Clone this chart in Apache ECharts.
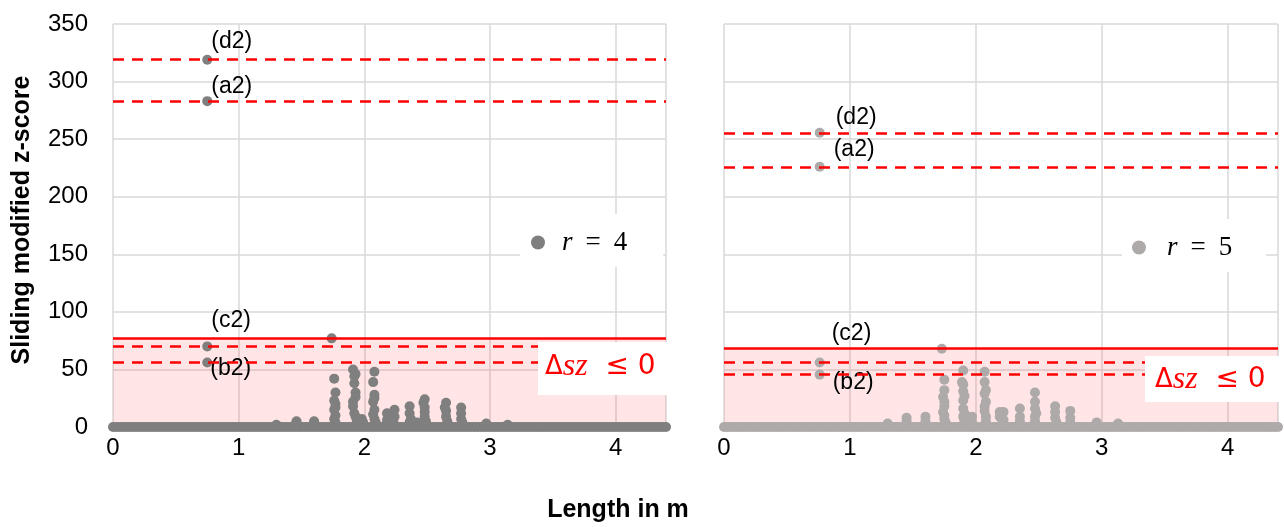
<!DOCTYPE html>
<html><head><meta charset="utf-8">
<script src="https://cdn.jsdelivr.net/npm/echarts@6/dist/echarts.min.js"></script>
<style>html,body{margin:0;padding:0;background:#fff}#c{width:1284px;height:527px}</style>
</head><body><div id="c"></div>
<script>
// ---------- data ----------
const xTicks = [0, 1, 2, 3, 4];
const yTicks = [0, 50, 100, 150, 200, 250, 300, 350];
const seriesNames = ['r = 4', 'r = 5'];

// labelled outliers [label, x, y]
const leftNamed  = [['(d2)', 0.75, 319], ['(a2)', 0.75, 283], ['(c2)', 0.75, 70], ['(b2)', 0.75, 56]];
const rightNamed = [['(d2)', 0.76, 255.5], ['(a2)', 0.76, 226], ['(c2)', 0.76, 56], ['(b2)', 0.76, 45.5]];

// threshold lines
const leftDashed = [319, 283, 70, 56];
const leftSolid = 77;
const rightDashed = [255.5, 226, 56, 45.5];
const rightSolid = 68;

// other points [x, y]
const leftPoints = [
  [1.74,77],
  [1.30,2],[1.46,4],[1.46,5],[1.60,5],[1.60,3],
  [1.76,42],[1.77,30],[1.76,23],[1.77,20],[1.77,17],[1.76,15],[1.77,10],[1.76,7],[1.77,4],
  [1.91,50],[1.93,46],[1.92,44],[1.92,38],[1.93,30],[1.93,26],[1.91,22],[1.91,18],[1.92,12],[1.93,9],[1.94,5],
  [1.98,7],[1.99,4],
  [2.08,48],[2.07,39],[2.08,28],[2.08,25],[2.07,22],[2.08,15],[2.07,11],[2.08,7],[2.09,4],
  [2.18,12],[2.18,6],[2.18,3],[2.24,15],[2.24,9],[2.23,5],
  [2.36,18],[2.36,12],[2.37,7],[2.36,4],[2.42,4],
  [2.48,24],[2.47,21],[2.48,17],[2.48,13],[2.48,9],[2.49,5],
  [2.65,21],[2.64,17],[2.65,14],[2.65,9],[2.66,5],
  [2.77,17],[2.77,12],[2.77,7],[2.78,4],
  [2.97,3],[3.14,2]
];
const rightPoints = [
  [1.73,68],
  [1.30,3],[1.45,8],[1.45,5],[1.60,9],[1.60,5],
  [1.75,41],[1.75,32],[1.74,26],[1.75,22],[1.75,18],[1.74,13],[1.75,10],[1.75,7],[1.76,4],
  [1.90,49],[1.89,39],[1.90,37],[1.90,31],[1.91,27],[1.90,23],[1.90,16],[1.91,12],[1.90,9],[1.91,5],
  [1.97,9],[1.97,4],
  [2.07,48],[2.07,39],[2.08,32],[2.07,29],[2.08,22],[2.07,18],[2.07,14],[2.08,9],[2.08,5],
  [2.19,13],[2.19,9],[2.22,13],[2.22,6],[2.21,3],
  [2.35,16],[2.35,9],[2.35,5],
  [2.47,30],[2.47,22],[2.47,16],[2.48,12],[2.47,9],[2.47,5],
  [2.63,18],[2.63,13],[2.63,8],[2.64,4],
  [2.75,14],[2.75,8],[2.75,4],
  [2.96,4],[3.13,3]
];
// near-zero points along the whole length (x positions)
const baselineX = [
  0,0.025,0.05,0.075,0.1,0.125,0.15,0.175,0.2,0.225,0.25,0.275,0.3,0.325,0.35,0.375,0.4,0.425,0.45,0.475,
  0.5,0.525,0.55,0.575,0.6,0.625,0.65,0.675,0.7,0.725,0.75,0.775,0.8,0.825,0.85,0.875,0.9,0.925,0.95,0.975,
  1,1.025,1.05,1.075,1.1,1.125,1.15,1.175,1.2,1.225,1.25,1.275,1.3,1.325,1.35,1.375,1.4,1.425,1.45,1.475,
  1.5,1.525,1.55,1.575,1.6,1.625,1.65,1.675,1.7,1.725,1.75,1.775,1.8,1.825,1.85,1.875,1.9,1.925,1.95,1.975,
  2,2.025,2.05,2.075,2.1,2.125,2.15,2.175,2.2,2.225,2.25,2.275,2.3,2.325,2.35,2.375,2.4,2.425,2.45,2.475,
  2.5,2.525,2.55,2.575,2.6,2.625,2.65,2.675,2.7,2.725,2.75,2.775,2.8,2.825,2.85,2.875,2.9,2.925,2.95,2.975,
  3,3.025,3.05,3.075,3.1,3.125,3.15,3.175,3.2,3.225,3.25,3.275,3.3,3.325,3.35,3.375,3.4,3.425,3.45,3.475,
  3.5,3.525,3.55,3.575,3.6,3.625,3.65,3.675,3.7,3.725,3.75,3.775,3.8,3.825,3.85,3.875,3.9,3.925,3.95,3.975,
  4,4.025,4.05,4.075,4.1,4.125,4.15,4.175,4.2,4.225,4.25,4.275,4.3,4.325,4.35,4.375,4.4];
const baselineValue = 0;

// ---------- styling / build ----------
const FONT = "'Liberation Sans', Arial, sans-serif";
const RED = '#ff0000';
const COLORS = ['#7f7f7f', '#aeaaaa'];
const labelOffsets = [
  {'(d2)': [-6, -18], '(a2)': [-6, -14], '(c2)': [-6, -26], '(b2)': [-7, 6]},
  {'(d2)': [6, -15], '(a2)': [4, -17], '(c2)': [2, -29], '(b2)': [3, 8]}
];

function namedData(named, offs) {
  return named.map(([lab, x, y]) => ({
    value: [x, y],
    label: {show: true, formatter: lab, position: 'right', offset: offs[lab],
            color: '#000', fontSize: 23, fontFamily: FONT}
  }));
}
function baseData(size) {
  return baselineX.map(x => ({value: [x, baselineValue], symbolSize: size}));
}

const grids = [
  {left: 113, top: 24, width: 553, height: 403},
  {left: 724, top: 24, width: 554, height: 403}
];
function xAxisFor(i) {
  return {type: 'value', gridIndex: i, min: 0, max: 4.4, interval: 1,
    axisLine: {show: false}, axisTick: {show: false},
    axisLabel: {fontSize: 24, color: '#000', fontFamily: FONT, margin: 9, showMaxLabel: false},
    splitLine: {show: true, lineStyle: {color: '#d9d9d9', width: 1.5}}};
}
function yAxisFor(i) {
  return {type: 'value', gridIndex: i, min: yTicks[0], max: yTicks[yTicks.length-1], interval: 50,
    axisLine: {show: false}, axisTick: {show: false},
    axisLabel: {show: i === 0, fontSize: 24, color: '#000', fontFamily: FONT, margin: 25},
    splitLine: {show: true, lineStyle: {color: '#d9d9d9', width: 1.5}}};
}
function lineSeries(i, dashed, solid) {
  return {type: 'line', xAxisIndex: i, yAxisIndex: i, data: [], z: 1, silent: true,
    markArea: {silent: true, itemStyle: {color: 'rgba(255,0,0,0.1)'},
      data: [[{yAxis: 0}, {yAxis: solid}]]},
    markLine: {silent: true, symbol: 'none', label: {show: false},
      data: dashed.map(v => ({yAxis: v, lineStyle: {color: RED, width: 2.5, type: [11, 8]}}))
        .concat([{yAxis: solid, lineStyle: {color: RED, width: 2.5, type: 'solid'}}])}};
}
function scatterSeries(i, named, pts) {
  return {type: 'scatter', name: seriesNames[i], xAxisIndex: i, yAxisIndex: i, z: 3, clip: false,
    symbolSize: 10, itemStyle: {color: COLORS[i], opacity: 1},
    data: baseData(10).concat(pts.map(p => ({value: p}))).concat(namedData(named, labelOffsets[i]))};
}
const legendRich = {
  i: {fontFamily: "'Liberation Serif', serif", fontStyle: 'italic', fontSize: 27, color: '#000', padding: [0, 0, 0, 12]},
  e: {fontFamily: "'Liberation Serif', serif", fontSize: 27, color: '#000', padding: [0, 13, 0, 13]},
  n: {fontFamily: "'Liberation Serif', serif", fontSize: 27, color: '#000'}
};
function legendFor(i, left, top, padLeftText, padRight) {
  const rich = JSON.parse(JSON.stringify(legendRich));
  rich.i.padding = [0, 0, 0, padLeftText];
  return {data: [seriesNames[i]], left: left, top: top, orient: 'vertical',
    backgroundColor: '#fff', padding: [15, padRight, 11, i === 0 ? 11 : 10],
    itemWidth: 14, itemHeight: 14, icon: 'circle',
    formatter: n => '{i|r}{e|=}{n|' + n.split('=')[1].trim() + '}',
    textStyle: {lineHeight: 24, rich: rich}};
}
const deltaRich = {
  d: {fontFamily: "'DejaVu Sans', sans-serif", fontSize: 26, fill: RED},
  v: {fontFamily: "'Liberation Serif', serif", fontStyle: 'italic', fontSize: 32, fill: RED},
  r: {fontFamily: "'DejaVu Sans', sans-serif", fontSize: 28, fill: RED}
};
function deltaBox(x, y, w, h, tx, ty) {
  return [
    {type: 'rect', z: 100, shape: {x: x, y: y, width: w, height: h}, style: {fill: '#fff'}},
    {type: 'text', z: 101, x: tx, y: ty, style: {text: '{d|Δ}{v|sz}{r|  ≤ 0}', rich: deltaRich,
      fill: RED, verticalAlign: 'middle', align: 'left'}}
  ];
}

const option = {
  animation: false,
  backgroundColor: '#fff',
  grid: grids,
  xAxis: [xAxisFor(0), xAxisFor(1)],
  yAxis: [yAxisFor(0), yAxisFor(1)],
  legend: [legendFor(0, 520, 214, 12, 36), legendFor(1, 1122, 219, 16, 34)],
  series: [
    lineSeries(0, leftDashed, leftSolid),
    lineSeries(1, rightDashed, rightSolid),
    scatterSeries(0, leftNamed, leftPoints),
    scatterSeries(1, rightNamed, rightPoints)
  ],
  graphic: deltaBox(538, 342, 130, 53, 545, 367)
    .concat(deltaBox(1145, 356, 135, 46, 1155, 380))
    .concat([
    {type: 'text', z: 100, x: 22, y: 220, rotation: Math.PI / 2,
      style: {text: 'Sliding modified z-score', font: "bold 25px " + FONT, fill: '#000',
        align: 'center', verticalAlign: 'middle'}},
    {type: 'text', z: 100, x: 618, y: 510,
      style: {text: 'Length in m', font: "bold 25px " + FONT, fill: '#000',
        align: 'center', verticalAlign: 'middle'}}
  ])
};
const chart = echarts.init(document.getElementById('c'), null, {renderer: 'canvas'});
chart.setOption(option);
</script></body></html>
